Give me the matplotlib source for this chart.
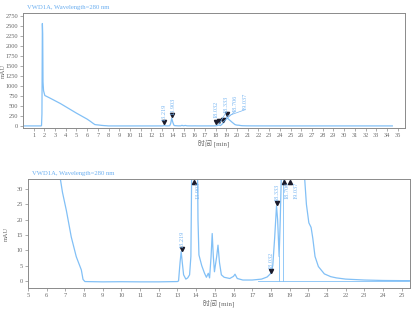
import matplotlib
matplotlib.use('Agg')
import matplotlib.pyplot as plt
from matplotlib.transforms import offset_copy

# ---- data ----
time_min = [0.0, 1.66, 1.74, 1.78, 1.82, 1.85, 1.88, 1.93, 2.05, 2.5, 3.0, 3.5, 4.0, 4.5,
            5.0, 5.5, 6.0, 6.3, 6.5, 6.72, 6.85, 7.06, 7.32, 7.59, 7.86, 7.95, 8.05, 9.0, 10.0,
            11.0, 12.0, 13.0, 13.06, 13.14, 13.2, 13.26, 13.33, 13.45, 13.55, 13.65,
            13.72, 13.8, 13.9, 14.0, 14.1, 14.15, 14.3, 14.45, 14.55, 14.65, 14.72,
            14.8, 14.86, 14.92, 14.98, 15.1, 15.17, 15.25, 15.35, 15.5, 15.8, 16.0,
            16.08, 16.2, 16.5, 17.0, 17.5, 17.8, 18.0, 18.1, 18.2, 18.3, 18.36, 18.44,
            18.5, 18.58, 18.7, 18.85, 19.04, 19.2, 19.5, 19.8, 19.9, 20.03, 20.15,
            20.24, 20.36, 20.54, 20.86, 21.2, 21.5, 22.0, 23.0, 24.0, 25.0, 34.5]
signal_mau = [0.0, 0.0, 5, 300, 2560, 2300, 1100, 880, 760, 700, 630, 560, 480, 400,
              320, 245, 170, 115, 75, 34, 29, 23, 14.4, 7.9, 3.6, 0.5, -0.2, -0.3, -0.25,
              -0.3, -0.3, -0.2, 0.0, 6, 9.6, 6, 2, 0.6, 1.0, 2.0,
              8, 60, 190, 90, 20, 8.5, 5, 2.5, 1.2, 2.5, 1.0,
              8, 15.5, 8, 3, 8, 11.7, 6, 2, 1.2, 0.8, 1.5,
              2.2, 0.8, 0.3, 0.3, 0.6, 1.3, 2.5, 5, 14, 24.5, 20, 8,
              20, 40, 70, 120, 210, 170, 100, 34, 25, 19, 17.5,
              14, 8, 4.7, 2.3, 1.4, 1.0, 0.6, 0.3, 0.15, 0.1, 0.0]

peak_rt = [13.219, 13.903, 18.032, 18.333, 18.706, 19.037]
peak_labels = ['13.219', '13.903', '18.032', '18.333', '18.706', '19.037']
peak_height = [9.6, 190, 2.5, 24.5, 70, 210]

top_label_x = [13.22, 13.98, 18.05, 18.94, 19.76, 20.7]
top_label_y = [125, 275, 200, 325, 350, 400]

bot_label_x = [13.22, 14.12, 17.98, 18.3, 18.85, 19.35]
bot_label_y = [10.8, 32.5, 4.0, 26.0, 32.5, 32.5]
bot_label_va = ['bottom', 'top', 'bottom', 'bottom', 'top', 'top']

drop_t = [18.44, 18.66]
drop_v = [8, 40]
baseline_t = [17.3, 25.4]
baseline_v = [0.0, 0.0]

title = 'VWD1A, Wavelength=280 nm'
xlabel = '时间 [min]'
ylabel = 'mAU'

# ---- styling ----
line_c = '#82c0f6'
title_c = '#6aaef0'
label_c = '#78b6f2'
spine_c = '#8a8a8a'
tick_c = '#6a6a6a'
mark_c = '#1a1a2a'
serif = ['Liberation Serif', 'Noto Sans CJK SC']

fig = plt.figure(figsize=(4.16, 3.12), dpi=100)
ax1 = fig.add_axes([0.055, 0.590, 0.919, 0.368])
ax2 = fig.add_axes([0.067, 0.077, 0.919, 0.349])


def style(ax, xticks, yticks, ylab_x):
    for s in ax.spines.values():
        s.set_color(spine_c)
        s.set_linewidth(0.7)
    ax.set_xticks(xticks)
    ax.set_yticks(yticks)
    ax.tick_params(direction='out', length=2, width=0.5, color=spine_c,
                   labelcolor=tick_c, labelsize=4.6, pad=1.5)
    for lab in ax.get_xticklabels() + ax.get_yticklabels():
        lab.set_family(serif)
    ax.set_xlabel(xlabel, family=serif, fontsize=5, color=tick_c, labelpad=1)
    ax.set_ylabel(ylabel, family=serif, fontsize=4.6, color=tick_c)
    ax.yaxis.set_label_coords(ylab_x, 0.5)


# ---- top panel ----
ax1.plot(time_min, signal_mau, color=line_c, lw=0.9)
ax1.set_xlim(0, 35.7)
ax1.set_ylim(-50, 2820)
style(ax1, range(1, 36), range(0, 2751, 250), -0.045)
ax1.text(0.01, 1.03, title, transform=ax1.transAxes, fontsize=4.8,
         color=title_c, family=serif, va='bottom', ha='left')
tr_up = offset_copy(ax1.transData, fig=fig, x=0, y=2.5, units='points')
ax1.plot(peak_rt, peak_height, linestyle='none', marker='v', markersize=3,
         color=mark_c, transform=tr_up)
for rt, h, lx, ly, lab in zip(peak_rt, peak_height, top_label_x, top_label_y, peak_labels):
    if abs(lx - rt) > 0.3:
        ax1.plot([rt, lx], [h + 30, ly], color=label_c, lw=0.5)
    ax1.text(lx, ly, lab, rotation=90, fontsize=4.5, color=label_c, family=serif,
             ha='center', va='bottom')

# ---- bottom panel ----
ax2.plot(time_min, signal_mau, color=line_c, lw=0.9)
ax2.plot(baseline_t, baseline_v, color=line_c, lw=0.6)
for t, v in zip(drop_t, drop_v):
    ax2.plot([t, t], [0, v], color=line_c, lw=0.6)
ax2.set_xlim(5, 25.45)
ax2.set_ylim(-2.3, 33.3)
style(ax2, range(5, 26), range(0, 31, 5), -0.05)
ax2.text(0.01, 1.03, title, transform=ax2.transAxes, fontsize=4.8,
         color=title_c, family=serif, va='bottom', ha='left')
ytop = 33.3
tr_up2 = offset_copy(ax2.transData, fig=fig, x=0, y=2.0, units='points')
tr_dn2 = offset_copy(ax2.transData, fig=fig, x=0, y=-2.0, units='points')
for rt, h, lx, ly, va, lab in zip(peak_rt, peak_height, bot_label_x, bot_label_y,
                                  bot_label_va, peak_labels):
    if h < ytop:
        ax2.plot([rt], [h], marker='v', markersize=3, color=mark_c,
                 transform=tr_up2, clip_on=False)
    else:
        ax2.plot([rt], [ytop], marker='^', markersize=3, color=mark_c,
                 transform=tr_dn2, clip_on=False)
    ax2.text(lx, ly, lab, rotation=90, fontsize=4.5, color=label_c, family=serif,
             ha='center', va=va)

fig.savefig('out.png', dpi=100)
